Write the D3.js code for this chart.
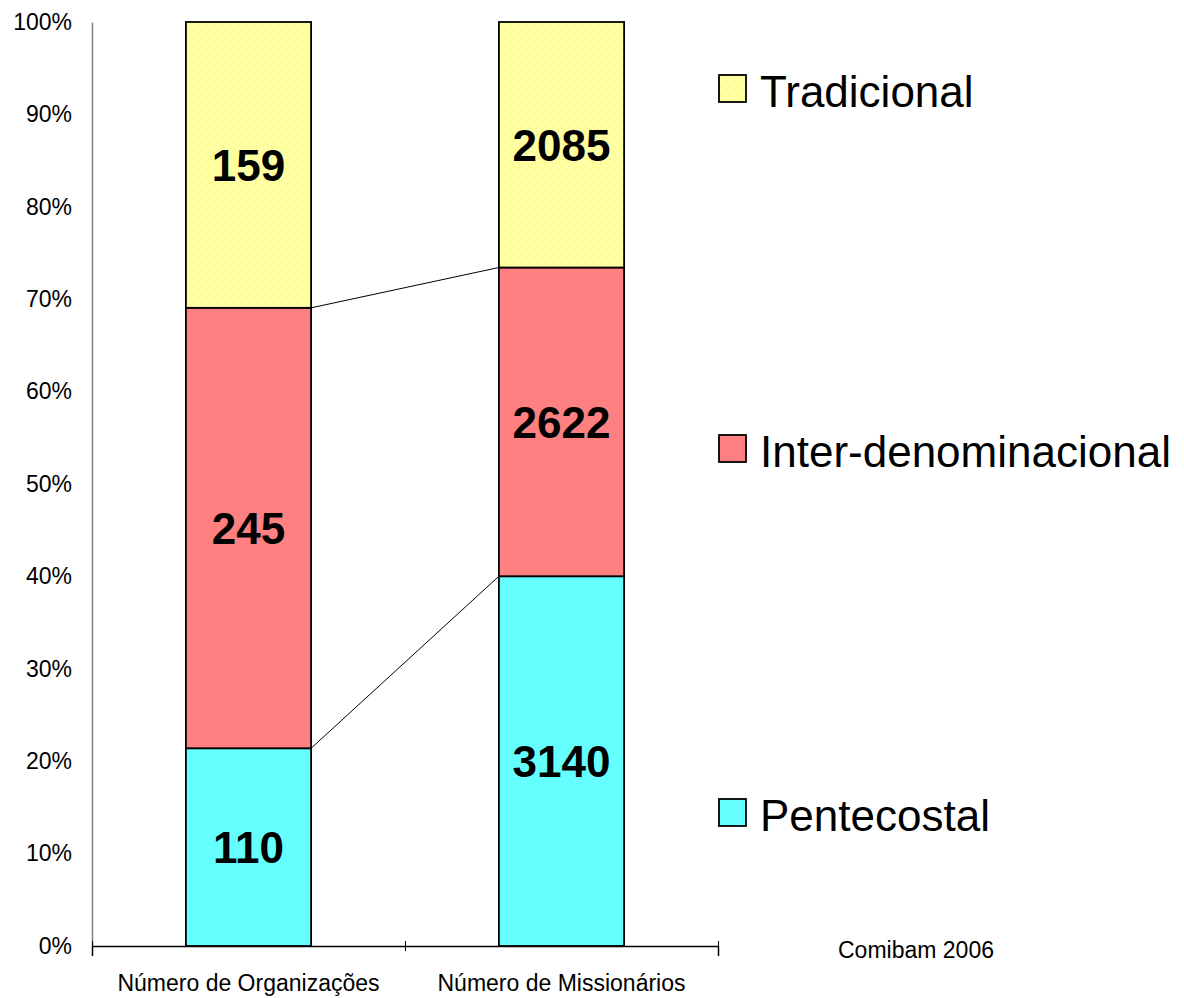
<!DOCTYPE html>
<html>
<head>
<meta charset="utf-8">
<script src="https://cdn.jsdelivr.net/npm/d3@7"></script>
<style>
  body { margin: 0; background: #fff; }
  text { font-family: Arial, "Liberation Sans", sans-serif; }
</style>
</head>
<body>
<script>
// data
let categories = ["Número de Organizações", "Número de Missionários"]
let seriesNames = ["Pentecostal", "Inter-denominacional", "Tradicional"]
let pentecostal = [110, 3140]
let interDenom = [245, 2622]
let tradicional = [159, 2085]
let yTicks = [0, 0.1, 0.2, 0.3, 0.4, 0.5, 0.6, 0.7, 0.8, 0.9, 1]

let colors = ["#66ffff", "#ff8080", "#ffff99"]
let width = 1184
let height = 998

let svg = d3.select("body").append("svg")
    .attr("width", width)
    .attr("height", height)

// dotted pattern for the yellow series
let defs = svg.append("defs")
let pat = defs.append("pattern")
    .attr("id", "dots")
    .attr("patternUnits", "userSpaceOnUse")
    .attr("width", 8)
    .attr("height", 8)
pat.append("rect").attr("width", 8).attr("height", 8).attr("fill", colors[2])
pat.append("circle").attr("cx", 2).attr("cy", 2).attr("r", 1).attr("fill", "#ffffee")
pat.append("circle").attr("cx", 6).attr("cy", 6).attr("r", 1).attr("fill", "#ffffee")

let fills = [colors[0], colors[1], "url(#dots)"]

let y = d3.scaleLinear().domain([0, 1]).range([946, 22])
let x = d3.scaleBand()
    .domain(categories)
    .range([92, 718])
    .paddingInner(0.6)
    .paddingOuter(0.3)

// build stack on percentages
let rows = categories.map((c, i) => ({
    cat: c,
    "Pentecostal": pentecostal[i],
    "Inter-denominacional": interDenom[i],
    "Tradicional": tradicional[i]
}))
let stacked = d3.stack().keys(seriesNames).offset(d3.stackOffsetExpand)(rows)

// y axis
let yAxis = d3.axisLeft(y)
    .tickValues(yTicks)
    .tickFormat(d3.format(".0%"))
    .tickSize(0)
    .tickPadding(20)
let gy = svg.append("g").attr("transform", "translate(92,0)").call(yAxis)
gy.select(".domain").attr("stroke", "#808080").attr("stroke-width", 1.5)
gy.selectAll("text").attr("font-size", 23).attr("fill", "#000")
    .attr("font-family", "Arial, 'Liberation Sans', sans-serif")

// connector lines between bars
let b0 = x(categories[0]) + x.bandwidth()
let b1 = x(categories[1])
stacked.slice(0, 2).forEach(s => {
    svg.append("line")
        .attr("x1", b0).attr("y1", y(s[0][1]))
        .attr("x2", b1).attr("y2", y(s[1][1]))
        .attr("stroke", "#000").attr("stroke-width", 1)
})

// bars
stacked.forEach((s, si) => {
    let g = svg.append("g")
    g.selectAll("rect")
        .data(s)
        .enter()
        .append("rect")
        .attr("x", d => x(d.data.cat))
        .attr("y", d => y(d[1]))
        .attr("width", x.bandwidth())
        .attr("height", d => y(d[0]) - y(d[1]))
        .attr("fill", fills[si])
        .attr("stroke", "#000")
        .attr("stroke-width", 1.8)
    g.selectAll("text")
        .data(s)
        .enter()
        .append("text")
        .attr("x", d => x(d.data.cat) + x.bandwidth() / 2)
        .attr("y", d => y((d[0] + d[1]) / 2))
        .attr("dy", "0.36em")
        .attr("text-anchor", "middle")
        .attr("font-size", 44)
        .attr("font-weight", "bold")
        .text(d => d.data[s.key])
})

// x axis with crossing ticks at category boundaries
let xb = d3.scaleLinear().domain([0, categories.length]).range([92, 718])
let xAxis = d3.axisBottom(xb)
    .tickValues(d3.range(categories.length + 1))
    .tickFormat("")
    .tickSizeOuter(0)
    .tickSize(10)
let gx = svg.append("g").attr("transform", "translate(0,946)").call(xAxis)
gx.select(".domain").attr("stroke", "#000").attr("stroke-width", 1.5)
gx.selectAll(".tick line").attr("y1", -5).attr("y2", 5).attr("stroke", "#000")

svg.selectAll(".catlabel")
    .data(categories)
    .enter()
    .append("text")
    .attr("x", d => x(d) + x.bandwidth() / 2)
    .attr("y", 991)
    .attr("text-anchor", "middle")
    .attr("font-size", 23)
    .text(d => d)

// legend
let legendY = [815, 451, 91]
seriesNames.forEach((n, i) => {
    svg.append("rect")
        .attr("x", 719).attr("y", legendY[i] - 16)
        .attr("width", 27).attr("height", 27)
        .attr("fill", fills[i])
        .attr("stroke", "#000").attr("stroke-width", 1.8)
    svg.append("text")
        .attr("x", 760).attr("y", legendY[i])
        .attr("dy", "0.36em")
        .attr("font-size", 44)
        .text(n)
})

svg.append("text")
    .attr("x", 838).attr("y", 958)
    .attr("font-size", 23)
    .text("Comibam 2006")
</script>
</body>
</html>
